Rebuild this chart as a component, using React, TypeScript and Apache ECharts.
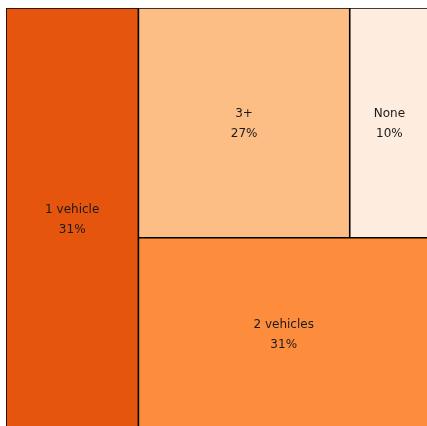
import React, { useEffect, useRef } from 'react';
import * as echarts from 'echarts';

const categories = ['1 vehicle', '3+', 'None', '2 vehicles'];
const shares = [31.3, 27.2, 10.2, 31.3];
const colors = ['#e6550d', '#fdbe85', '#feedde', '#fd8d3c'];

export default function App() {
  const ref = useRef<HTMLDivElement>(null);
  useEffect(() => {
    const chart = echarts.init(ref.current as HTMLDivElement, null, { renderer: 'svg' });
    const leaf = (i: number) => ({
      name: categories[i],
      value: shares[i],
      itemStyle: { color: colors[i], borderColor: '#000', borderWidth: 0.8, gapWidth: 0 },
    });
    const groupStyle = { borderWidth: 0, gapWidth: 0, borderColor: '#000' };
    const topGroup = {
      name: 'top',
      value: shares[1] + shares[2],
      itemStyle: groupStyle,
      children: [leaf(1), leaf(2)],
    };
    const rest = {
      name: 'rest',
      value: shares[1] + shares[2] + shares[3],
      itemStyle: groupStyle,
      children: [topGroup, leaf(3)],
    };
    chart.setOption({
      animation: false,
      series: [
        {
          type: 'treemap',
          left: 0,
          top: 0,
          width: '100%',
          height: '100%',
          sort: false,
          squareRatio: 0.8,
          roam: false,
          nodeClick: false,
          breadcrumb: { show: false },
          itemStyle: { borderWidth: 0, gapWidth: 0, borderColor: '#000' },
          upperLabel: { show: false },
          emphasis: { disabled: true },
          label: {
            show: true,
            position: 'inside',
            align: 'center',
            verticalAlign: 'middle',
            color: '#1a1a1a',
            fontFamily: 'DejaVu Sans',
            fontSize: 12,
            lineHeight: 20,
            formatter: (p: any) => `${p.name}\n${Math.round(p.value)}%`,
          },
          data: [leaf(0), rest],
        },
      ],
    });
    return () => chart.dispose();
  }, []);
  return (
    <div style={{ position: 'fixed', left: 6, top: 8, width: 421, height: 418, overflow: 'hidden' }}>
      <div ref={ref} style={{ width: 423, height: 422 }} />
    </div>
  );
}
